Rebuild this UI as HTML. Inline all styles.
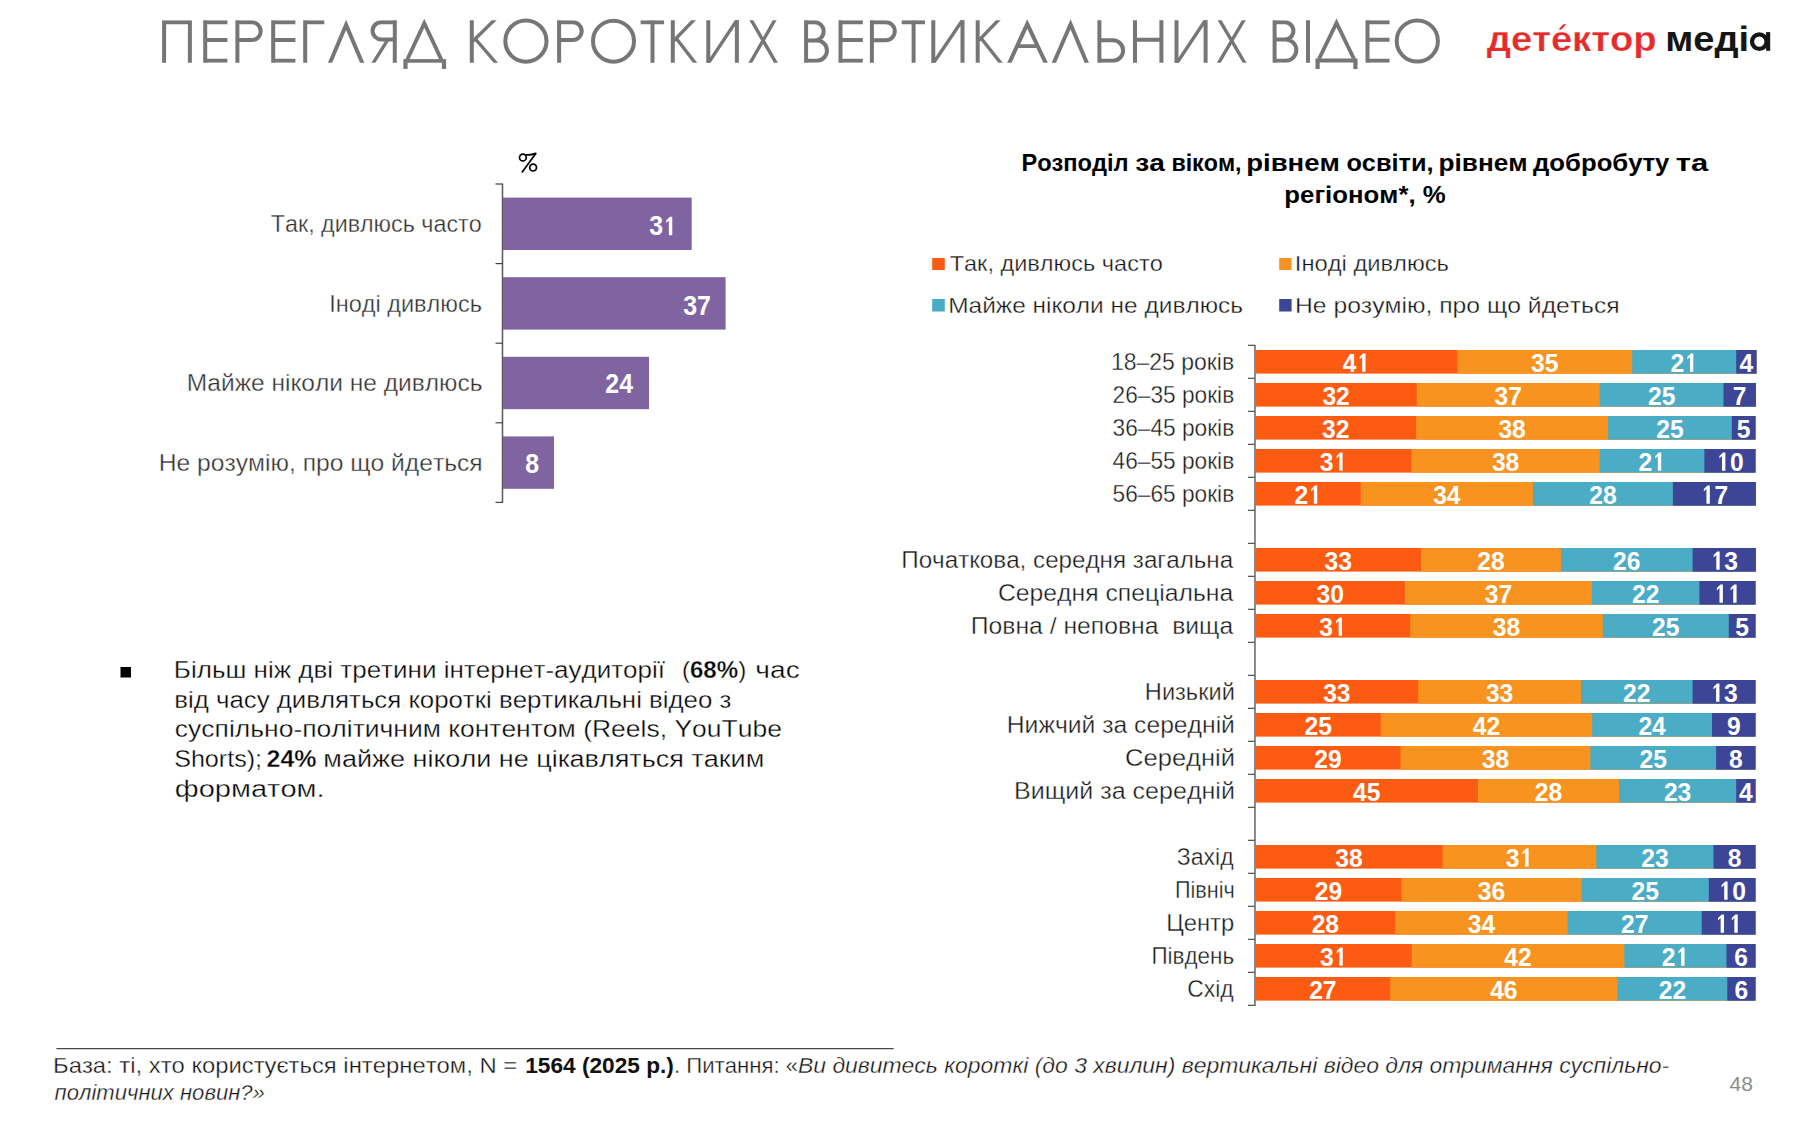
<!DOCTYPE html>
<html><head><meta charset="utf-8"><title>Перегляд коротких вертикальних відео</title>
<style>
html,body{margin:0;padding:0;background:#fff;}
body{width:1800px;height:1125px;overflow:hidden;}
svg{display:block;font-family:"Liberation Sans",sans-serif;font-kerning:none;font-variant-ligatures:none;}
svg text{font-kerning:none;font-variant-ligatures:none;white-space:pre;}
</style></head><body>
<svg width="1800" height="1125" viewBox="0 0 1800 1125">
<rect width="1800" height="1125" fill="#fff"/>
<defs><clipPath id="tc"><rect x="150" y="20.2" width="1300" height="42.5"/></clipPath></defs><g clip-path="url(#tc)"><path d="M164.1,64.7 L164.1,22.2 L189.9,22.2 L189.9,64.7 M205.20,18.20 L205.20,64.70 M205.20,22.20 L227.40,22.20 M205.20,40.00 L227.40,40.00 M205.20,60.70 L227.40,60.70 M237.40,18.20 L237.40,64.70 M237.40,22.20 L251.75,22.20 A8.95,8.95 0 0 1 251.75,40.10 L237.40,40.10 M273.20,18.20 L273.20,64.70 M273.20,22.20 L295.40,22.20 M273.20,40.00 L295.40,40.00 M273.20,60.70 L295.40,60.70 M305.20,18.20 L305.20,64.70 M305.20,22.20 L324.30,22.20 M394.80,18.20 L394.80,64.70 M394.80,22.20 L381.15,22.20 A8.60,8.60 0 0 0 381.15,39.40 L394.80,39.40 M471.80,18.20 L471.80,64.70 M559.10,18.20 L559.10,64.70 M559.10,22.20 L572.80,22.20 A8.90,8.90 0 0 1 572.80,40.00 L559.10,40.00 M640.60,22.20 L664.10,22.20 M652.50,18.20 L652.50,64.70 M672.80,18.20 L672.80,64.70 M708.30,18.20 L708.30,64.70 M736.90,18.20 L736.90,64.70 M806.10,18.20 L806.10,64.70 M806.10,22.20 L814.50,22.20 A9.15,9.15 0 0 1 814.50,40.50 L806.10,40.50 M806.10,40.50 L816.85,40.50 A10.10,10.10 0 0 1 816.85,60.70 L806.10,60.70 M840.50,18.20 L840.50,64.70 M840.50,22.20 L862.80,22.20 M840.50,40.00 L862.80,40.00 M840.50,60.70 L862.80,60.70 M871.90,18.20 L871.90,64.70 M871.90,22.20 L885.80,22.20 A9.00,9.00 0 0 1 885.80,40.20 L871.90,40.20 M901.70,22.20 L925.00,22.20 M913.60,18.20 L913.60,64.70 M933.30,18.20 L933.30,64.70 M962.50,18.20 L962.50,64.70 M977.70,18.20 L977.70,64.70 M1099.40,18.20 L1099.40,64.70 M1099.40,40.30 L1112.90,40.30 A10.20,10.20 0 0 1 1112.90,60.70 L1099.40,60.70 M1135.00,18.20 L1135.00,64.70 M1161.40,18.20 L1161.40,64.70 M1135.00,39.80 L1161.40,39.80 M1176.50,18.20 L1176.50,64.70 M1205.60,18.20 L1205.60,64.70 M1274.60,18.20 L1274.60,64.70 M1274.60,22.20 L1284.80,22.20 A8.65,8.65 0 0 1 1284.80,39.50 L1274.60,39.50 M1274.60,39.50 L1285.75,39.50 A10.60,10.60 0 0 1 1285.75,60.70 L1274.60,60.70 M1308.00,18.20 L1308.00,64.70 M1367.50,18.20 L1367.50,64.70 M1367.50,22.20 L1389.50,22.20 M1367.50,39.80 L1389.50,39.80 M1367.50,60.70 L1389.50,60.70" fill="none" stroke="#767676" stroke-width="4.0" stroke-linejoin="miter" stroke-miterlimit="10"/><path d="M388.00,39.40 L371.28,66.09 M472.80,41.20 L497.05,17.40 M475.00,38.50 L498.41,65.73 M673.80,40.70 L696.38,17.32 M676.00,38.00 L697.44,65.87 M739.07,16.87 L706.43,66.03 M749.30,16.74 L777.90,66.16 M776.69,16.73 L748.31,66.17 M964.68,16.89 L931.42,66.01 M978.70,40.70 L1001.06,17.31 M980.90,38.00 L1002.99,65.83 M1207.57,16.87 L1174.93,66.03 M1217.57,16.75 L1246.63,66.15 M1245.83,16.75 L1216.77,66.15" fill="none" stroke="#767676" stroke-width="3.4"/></g><path d="M327.90,62.70 L346.10,19.80 L364.30,62.70 L360.00,62.70 L346.10,29.94 L332.20,62.70 Z" fill="#767676"/><path d="M405.20,59.40 L424.30,18.70 L443.40,59.40 L439.20,59.40 L424.30,27.65 L409.40,59.40 Z" fill="#767676"/><rect x="403.40" y="59.10" width="42.70" height="3.60" fill="#767676"/><rect x="403.40" y="62.20" width="4.20" height="6.70" fill="#767676"/><rect x="441.90" y="62.20" width="4.20" height="6.70" fill="#767676"/><circle cx="525.90" cy="41.10" r="20.60" fill="none" stroke="#767676" stroke-width="4.0"/><circle cx="613.50" cy="41.20" r="20.50" fill="none" stroke="#767676" stroke-width="4.0"/><path d="M1007.20,62.70 L1027.20,19.20 L1047.80,62.70 L1043.40,62.70 L1027.27,28.63 L1011.60,62.70 Z" fill="#767676"/><path d="M1019.61,44.2 L1035.14,44.2 L1036.99,48.1 L1017.81,48.1 Z" fill="#767676"/><path d="M1051.70,62.70 L1070.60,19.20 L1088.90,62.70 L1084.60,62.70 L1070.53,29.26 L1056.00,62.70 Z" fill="#767676"/><path d="M1317.00,58.80 L1336.50,18.50 L1356.00,58.80 L1351.80,58.80 L1336.50,27.18 L1321.20,58.80 Z" fill="#767676"/><rect x="1315.50" y="58.50" width="42.00" height="4.00" fill="#767676"/><rect x="1315.50" y="62.00" width="4.20" height="7.00" fill="#767676"/><rect x="1353.30" y="62.00" width="4.20" height="7.00" fill="#767676"/><circle cx="1417.30" cy="41.00" r="20.60" fill="none" stroke="#767676" stroke-width="4.0"/>
<text x="1486.74" y="50.80" font-size="35.50" textLength="169.83" lengthAdjust="spacingAndGlyphs" fill="#e52b2b" stroke="#fff" stroke-width="0.25"><tspan font-weight="bold">детектор</tspan></text>
<text x="1665.25" y="50.80" font-size="35.50" textLength="83.84" lengthAdjust="spacingAndGlyphs" fill="#161616"><tspan font-weight="bold">меді</tspan></text>
<circle cx="1759.3" cy="41.6" r="7.3" fill="none" stroke="#161616" stroke-width="4.3"/><rect x="1766.1" y="32.1" width="4.1" height="18.7" fill="#161616"/>
<path d="M1558.6,29.4 L1561.4,29.4 L1566.4,24.2 L1563.3,24.2 Z" fill="#e52b2b"/>
<g fill="none" stroke="#000" stroke-width="1.7" stroke-linejoin="round"><circle cx="522.9" cy="157.5" r="3.4"/><circle cx="533.1" cy="167.6" r="3.4"/><path d="M525.6,154.6 Q530,155.6 535.8,153.4 L521.9,172.6"/></g>
<line x1="502.5" y1="184" x2="502.5" y2="502.5" stroke="#595959" stroke-width="1.5"/>
<line x1="495.5" y1="184" x2="503" y2="184" stroke="#444" stroke-width="1.2"/>
<line x1="495.5" y1="263.6" x2="503" y2="263.6" stroke="#444" stroke-width="1.2"/>
<line x1="495.5" y1="343.2" x2="503" y2="343.2" stroke="#444" stroke-width="1.2"/>
<line x1="495.5" y1="422.8" x2="503" y2="422.8" stroke="#444" stroke-width="1.2"/>
<line x1="495.5" y1="502.4" x2="503" y2="502.4" stroke="#444" stroke-width="1.2"/>
<rect x="503.00" y="197.60" width="188.70" height="52.40" fill="#8064a2"/>
<text x="649.16" y="235.30" font-size="26.80" font-weight="bold" textLength="13.86" lengthAdjust="spacingAndGlyphs" fill="#fff">3</text>
<path transform="translate(663.03,235.30) scale(0.01217,-0.01309)" d="M759 0 L759 1409 L560 1409 L262 1140 L262 945 L478 1140 L478 0 Z" fill="#fff"/>
<rect x="503.00" y="277.20" width="222.60" height="52.40" fill="#8064a2"/>
<text x="683.25" y="314.70" font-size="26.80" font-weight="bold" textLength="13.86" lengthAdjust="spacingAndGlyphs" fill="#fff">3</text>
<text x="697.11" y="314.70" font-size="26.80" font-weight="bold" textLength="13.86" lengthAdjust="spacingAndGlyphs" fill="#fff">7</text>
<rect x="503.00" y="356.80" width="146.00" height="52.40" fill="#8064a2"/>
<text x="605.27" y="393.30" font-size="26.80" font-weight="bold" textLength="13.86" lengthAdjust="spacingAndGlyphs" fill="#fff">2</text>
<text x="619.13" y="393.30" font-size="26.80" font-weight="bold" textLength="13.86" lengthAdjust="spacingAndGlyphs" fill="#fff">4</text>
<rect x="503.00" y="436.40" width="51.00" height="52.40" fill="#8064a2"/>
<text x="525.21" y="473.30" font-size="26.80" font-weight="bold" textLength="13.86" lengthAdjust="spacingAndGlyphs" fill="#fff">8</text>
<text x="270.78" y="232.00" font-size="23.69" textLength="210.90" lengthAdjust="spacingAndGlyphs" fill="#2e2e2e" stroke="#fff" stroke-width="0.35">Так, дивлюсь часто</text>
<text x="329.13" y="311.50" font-size="23.69" textLength="152.84" lengthAdjust="spacingAndGlyphs" fill="#2e2e2e" stroke="#fff" stroke-width="0.35">Іноді дивлюсь</text>
<text x="186.89" y="391.10" font-size="23.69" textLength="295.62" lengthAdjust="spacingAndGlyphs" fill="#2e2e2e" stroke="#fff" stroke-width="0.35">Майже ніколи не дивлюсь</text>
<text x="158.68" y="470.80" font-size="23.69" textLength="324.03" lengthAdjust="spacingAndGlyphs" fill="#2e2e2e" stroke="#fff" stroke-width="0.35">Не розумію, про що йдеться</text>
<text x="1021.42" y="171.00" font-size="23.26" textLength="107.23" lengthAdjust="spacingAndGlyphs" fill="#000"><tspan font-weight="bold">Розподіл</tspan></text>
<text x="1135.27" y="171.00" font-size="23.26" textLength="29.55" lengthAdjust="spacingAndGlyphs" fill="#000"><tspan font-weight="bold">за</tspan></text>
<text x="1171.38" y="171.00" font-size="23.26" textLength="70.18" lengthAdjust="spacingAndGlyphs" fill="#000"><tspan font-weight="bold">віком,</tspan></text>
<text x="1246.18" y="171.00" font-size="23.26" textLength="93.74" lengthAdjust="spacingAndGlyphs" fill="#000"><tspan font-weight="bold">рівнем</tspan></text>
<text x="1346.41" y="171.00" font-size="23.26" textLength="87.08" lengthAdjust="spacingAndGlyphs" fill="#000"><tspan font-weight="bold">освіти,</tspan></text>
<text x="1438.58" y="171.00" font-size="23.26" textLength="89.05" lengthAdjust="spacingAndGlyphs" fill="#000"><tspan font-weight="bold">рівнем</tspan></text>
<text x="1533.02" y="171.00" font-size="23.26" textLength="136.41" lengthAdjust="spacingAndGlyphs" fill="#000"><tspan font-weight="bold">добробуту</tspan></text>
<text x="1675.82" y="171.00" font-size="23.26" textLength="32.38" lengthAdjust="spacingAndGlyphs" fill="#000"><tspan font-weight="bold">та</tspan></text>
<text x="1284.30" y="202.50" font-size="23.26" textLength="161.38" lengthAdjust="spacingAndGlyphs" fill="#000"><tspan font-weight="bold">регіоном*, %</tspan></text>
<rect x="932.20" y="258.00" width="12.60" height="12.00" fill="#fd5a12"/>
<rect x="932.20" y="299.00" width="12.60" height="12.50" fill="#4bacc6"/>
<rect x="1279.20" y="258.00" width="12.40" height="12.00" fill="#f7931e"/>
<rect x="1279.20" y="299.00" width="12.40" height="12.50" fill="#3c4596"/>
<text x="949.67" y="271.40" font-size="22.09" textLength="213.12" lengthAdjust="spacingAndGlyphs" fill="#111" stroke="#fff" stroke-width="0.35">Так, дивлюсь часто</text>
<text x="948.19" y="313.00" font-size="22.09" textLength="294.81" lengthAdjust="spacingAndGlyphs" fill="#111" stroke="#fff" stroke-width="0.35">Майже ніколи не дивлюсь</text>
<text x="1294.81" y="271.40" font-size="22.09" textLength="154.16" lengthAdjust="spacingAndGlyphs" fill="#111" stroke="#fff" stroke-width="0.35">Іноді дивлюсь</text>
<text x="1294.97" y="313.00" font-size="22.09" textLength="324.74" lengthAdjust="spacingAndGlyphs" fill="#111" stroke="#fff" stroke-width="0.35">Не розумію, про що йдеться</text>
<line x1="1254.95" y1="344.7" x2="1254.95" y2="1005.9" stroke="#7d7d7d" stroke-width="1.8"/>
<line x1="1248" y1="345.3" x2="1254.5" y2="345.3" stroke="#3a3a3a" stroke-width="1.1"/>
<line x1="1248" y1="378.3" x2="1254.5" y2="378.3" stroke="#3a3a3a" stroke-width="1.1"/>
<line x1="1248" y1="411.3" x2="1254.5" y2="411.3" stroke="#3a3a3a" stroke-width="1.1"/>
<line x1="1248" y1="444.3" x2="1254.5" y2="444.3" stroke="#3a3a3a" stroke-width="1.1"/>
<line x1="1248" y1="477.3" x2="1254.5" y2="477.3" stroke="#3a3a3a" stroke-width="1.1"/>
<line x1="1248" y1="510.3" x2="1254.5" y2="510.3" stroke="#3a3a3a" stroke-width="1.1"/>
<line x1="1248" y1="543.3" x2="1254.5" y2="543.3" stroke="#3a3a3a" stroke-width="1.1"/>
<line x1="1248" y1="576.3" x2="1254.5" y2="576.3" stroke="#3a3a3a" stroke-width="1.1"/>
<line x1="1248" y1="609.3" x2="1254.5" y2="609.3" stroke="#3a3a3a" stroke-width="1.1"/>
<line x1="1248" y1="642.3" x2="1254.5" y2="642.3" stroke="#3a3a3a" stroke-width="1.1"/>
<line x1="1248" y1="675.3" x2="1254.5" y2="675.3" stroke="#3a3a3a" stroke-width="1.1"/>
<line x1="1248" y1="708.3" x2="1254.5" y2="708.3" stroke="#3a3a3a" stroke-width="1.1"/>
<line x1="1248" y1="741.3" x2="1254.5" y2="741.3" stroke="#3a3a3a" stroke-width="1.1"/>
<line x1="1248" y1="774.3" x2="1254.5" y2="774.3" stroke="#3a3a3a" stroke-width="1.1"/>
<line x1="1248" y1="807.3" x2="1254.5" y2="807.3" stroke="#3a3a3a" stroke-width="1.1"/>
<line x1="1248" y1="840.3" x2="1254.5" y2="840.3" stroke="#3a3a3a" stroke-width="1.1"/>
<line x1="1248" y1="873.3" x2="1254.5" y2="873.3" stroke="#3a3a3a" stroke-width="1.1"/>
<line x1="1248" y1="906.3" x2="1254.5" y2="906.3" stroke="#3a3a3a" stroke-width="1.1"/>
<line x1="1248" y1="939.3" x2="1254.5" y2="939.3" stroke="#3a3a3a" stroke-width="1.1"/>
<line x1="1248" y1="972.3" x2="1254.5" y2="972.3" stroke="#3a3a3a" stroke-width="1.1"/>
<line x1="1248" y1="1005.3" x2="1254.5" y2="1005.3" stroke="#3a3a3a" stroke-width="1.1"/>
<rect x="1255.50" y="350.00" width="501.00" height="23.60" fill="#fd5a12"/>
<rect x="1457.30" y="350.00" width="299.20" height="23.60" fill="#f7931e"/>
<rect x="1632.20" y="350.00" width="124.30" height="23.60" fill="#4bacc6"/>
<rect x="1736.20" y="350.00" width="20.30" height="23.60" fill="#3c4596"/>
<text x="1342.69" y="371.80" font-size="26.50" font-weight="bold" textLength="13.71" lengthAdjust="spacingAndGlyphs" fill="#fff">4</text>
<path transform="translate(1356.40,371.80) scale(0.01203,-0.01294)" d="M759 0 L759 1409 L560 1409 L262 1140 L262 945 L478 1140 L478 0 Z" fill="#fff"/>
<text x="1531.04" y="371.80" font-size="26.50" font-weight="bold" textLength="13.71" lengthAdjust="spacingAndGlyphs" fill="#fff">3</text>
<text x="1544.75" y="371.80" font-size="26.50" font-weight="bold" textLength="13.71" lengthAdjust="spacingAndGlyphs" fill="#fff">5</text>
<text x="1670.49" y="371.80" font-size="26.50" font-weight="bold" textLength="13.71" lengthAdjust="spacingAndGlyphs" fill="#fff">2</text>
<path transform="translate(1684.20,371.80) scale(0.01203,-0.01294)" d="M759 0 L759 1409 L560 1409 L262 1140 L262 945 L478 1140 L478 0 Z" fill="#fff"/>
<text x="1739.50" y="371.80" font-size="26.50" font-weight="bold" textLength="13.71" lengthAdjust="spacingAndGlyphs" fill="#fff">4</text>
<text x="1110.95" y="369.50" font-size="23.26" textLength="123.25" lengthAdjust="spacingAndGlyphs" fill="#161616" stroke="#fff" stroke-width="0.35">18–25 років</text>
<rect x="1255.50" y="383.00" width="500.40" height="23.60" fill="#fd5a12"/>
<rect x="1416.70" y="383.00" width="339.20" height="23.60" fill="#f7931e"/>
<rect x="1599.80" y="383.00" width="156.10" height="23.60" fill="#4bacc6"/>
<rect x="1723.50" y="383.00" width="32.40" height="23.60" fill="#3c4596"/>
<text x="1322.39" y="404.80" font-size="26.50" font-weight="bold" textLength="13.71" lengthAdjust="spacingAndGlyphs" fill="#fff">3</text>
<text x="1336.10" y="404.80" font-size="26.50" font-weight="bold" textLength="13.71" lengthAdjust="spacingAndGlyphs" fill="#fff">2</text>
<text x="1494.54" y="404.80" font-size="26.50" font-weight="bold" textLength="13.71" lengthAdjust="spacingAndGlyphs" fill="#fff">3</text>
<text x="1508.25" y="404.80" font-size="26.50" font-weight="bold" textLength="13.71" lengthAdjust="spacingAndGlyphs" fill="#fff">7</text>
<text x="1647.94" y="404.80" font-size="26.50" font-weight="bold" textLength="13.71" lengthAdjust="spacingAndGlyphs" fill="#fff">2</text>
<text x="1661.65" y="404.80" font-size="26.50" font-weight="bold" textLength="13.71" lengthAdjust="spacingAndGlyphs" fill="#fff">5</text>
<text x="1732.85" y="404.80" font-size="26.50" font-weight="bold" textLength="13.71" lengthAdjust="spacingAndGlyphs" fill="#fff">7</text>
<text x="1112.61" y="402.50" font-size="23.26" textLength="121.58" lengthAdjust="spacingAndGlyphs" fill="#161616" stroke="#fff" stroke-width="0.35">26–35 років</text>
<rect x="1255.50" y="416.00" width="500.00" height="23.60" fill="#fd5a12"/>
<rect x="1416.10" y="416.00" width="339.40" height="23.60" fill="#f7931e"/>
<rect x="1608.10" y="416.00" width="147.40" height="23.60" fill="#4bacc6"/>
<rect x="1731.80" y="416.00" width="23.70" height="23.60" fill="#3c4596"/>
<text x="1322.09" y="437.80" font-size="26.50" font-weight="bold" textLength="13.71" lengthAdjust="spacingAndGlyphs" fill="#fff">3</text>
<text x="1335.80" y="437.80" font-size="26.50" font-weight="bold" textLength="13.71" lengthAdjust="spacingAndGlyphs" fill="#fff">2</text>
<text x="1498.39" y="437.80" font-size="26.50" font-weight="bold" textLength="13.71" lengthAdjust="spacingAndGlyphs" fill="#fff">3</text>
<text x="1512.10" y="437.80" font-size="26.50" font-weight="bold" textLength="13.71" lengthAdjust="spacingAndGlyphs" fill="#fff">8</text>
<text x="1656.24" y="437.80" font-size="26.50" font-weight="bold" textLength="13.71" lengthAdjust="spacingAndGlyphs" fill="#fff">2</text>
<text x="1669.95" y="437.80" font-size="26.50" font-weight="bold" textLength="13.71" lengthAdjust="spacingAndGlyphs" fill="#fff">5</text>
<text x="1736.80" y="437.80" font-size="26.50" font-weight="bold" textLength="13.71" lengthAdjust="spacingAndGlyphs" fill="#fff">5</text>
<text x="1112.61" y="435.50" font-size="23.26" textLength="121.58" lengthAdjust="spacingAndGlyphs" fill="#161616" stroke="#fff" stroke-width="0.35">36–45 років</text>
<rect x="1255.50" y="449.00" width="500.00" height="23.60" fill="#fd5a12"/>
<rect x="1411.40" y="449.00" width="344.10" height="23.60" fill="#f7931e"/>
<rect x="1599.80" y="449.00" width="155.70" height="23.60" fill="#4bacc6"/>
<rect x="1704.40" y="449.00" width="51.10" height="23.60" fill="#3c4596"/>
<text x="1319.74" y="470.80" font-size="26.50" font-weight="bold" textLength="13.71" lengthAdjust="spacingAndGlyphs" fill="#fff">3</text>
<path transform="translate(1333.45,470.80) scale(0.01203,-0.01294)" d="M759 0 L759 1409 L560 1409 L262 1140 L262 945 L478 1140 L478 0 Z" fill="#fff"/>
<text x="1491.89" y="470.80" font-size="26.50" font-weight="bold" textLength="13.71" lengthAdjust="spacingAndGlyphs" fill="#fff">3</text>
<text x="1505.60" y="470.80" font-size="26.50" font-weight="bold" textLength="13.71" lengthAdjust="spacingAndGlyphs" fill="#fff">8</text>
<text x="1638.39" y="470.80" font-size="26.50" font-weight="bold" textLength="13.71" lengthAdjust="spacingAndGlyphs" fill="#fff">2</text>
<path transform="translate(1652.10,470.80) scale(0.01203,-0.01294)" d="M759 0 L759 1409 L560 1409 L262 1140 L262 945 L478 1140 L478 0 Z" fill="#fff"/>
<path transform="translate(1716.24,470.80) scale(0.01203,-0.01294)" d="M759 0 L759 1409 L560 1409 L262 1140 L262 945 L478 1140 L478 0 Z" fill="#fff"/>
<text x="1729.95" y="470.80" font-size="26.50" font-weight="bold" textLength="13.71" lengthAdjust="spacingAndGlyphs" fill="#fff">0</text>
<text x="1112.61" y="468.50" font-size="23.26" textLength="121.58" lengthAdjust="spacingAndGlyphs" fill="#161616" stroke="#fff" stroke-width="0.35">46–55 років</text>
<rect x="1255.50" y="482.00" width="500.40" height="23.60" fill="#fd5a12"/>
<rect x="1360.70" y="482.00" width="395.20" height="23.60" fill="#f7931e"/>
<rect x="1533.00" y="482.00" width="222.90" height="23.60" fill="#4bacc6"/>
<rect x="1672.90" y="482.00" width="83.00" height="23.60" fill="#3c4596"/>
<text x="1294.39" y="503.80" font-size="26.50" font-weight="bold" textLength="13.71" lengthAdjust="spacingAndGlyphs" fill="#fff">2</text>
<path transform="translate(1308.10,503.80) scale(0.01203,-0.01294)" d="M759 0 L759 1409 L560 1409 L262 1140 L262 945 L478 1140 L478 0 Z" fill="#fff"/>
<text x="1433.14" y="503.80" font-size="26.50" font-weight="bold" textLength="13.71" lengthAdjust="spacingAndGlyphs" fill="#fff">3</text>
<text x="1446.85" y="503.80" font-size="26.50" font-weight="bold" textLength="13.71" lengthAdjust="spacingAndGlyphs" fill="#fff">4</text>
<text x="1589.24" y="503.80" font-size="26.50" font-weight="bold" textLength="13.71" lengthAdjust="spacingAndGlyphs" fill="#fff">2</text>
<text x="1602.95" y="503.80" font-size="26.50" font-weight="bold" textLength="13.71" lengthAdjust="spacingAndGlyphs" fill="#fff">8</text>
<path transform="translate(1700.69,503.80) scale(0.01203,-0.01294)" d="M759 0 L759 1409 L560 1409 L262 1140 L262 945 L478 1140 L478 0 Z" fill="#fff"/>
<text x="1714.40" y="503.80" font-size="26.50" font-weight="bold" textLength="13.71" lengthAdjust="spacingAndGlyphs" fill="#fff">7</text>
<text x="1112.61" y="501.50" font-size="23.26" textLength="121.58" lengthAdjust="spacingAndGlyphs" fill="#161616" stroke="#fff" stroke-width="0.35">56–65 років</text>
<rect x="1255.50" y="548.00" width="500.40" height="23.60" fill="#fd5a12"/>
<rect x="1421.10" y="548.00" width="334.80" height="23.60" fill="#f7931e"/>
<rect x="1561.00" y="548.00" width="194.90" height="23.60" fill="#4bacc6"/>
<rect x="1692.60" y="548.00" width="63.30" height="23.60" fill="#3c4596"/>
<text x="1324.59" y="569.80" font-size="26.50" font-weight="bold" textLength="13.71" lengthAdjust="spacingAndGlyphs" fill="#fff">3</text>
<text x="1338.30" y="569.80" font-size="26.50" font-weight="bold" textLength="13.71" lengthAdjust="spacingAndGlyphs" fill="#fff">3</text>
<text x="1477.34" y="569.80" font-size="26.50" font-weight="bold" textLength="13.71" lengthAdjust="spacingAndGlyphs" fill="#fff">2</text>
<text x="1491.05" y="569.80" font-size="26.50" font-weight="bold" textLength="13.71" lengthAdjust="spacingAndGlyphs" fill="#fff">8</text>
<text x="1613.09" y="569.80" font-size="26.50" font-weight="bold" textLength="13.71" lengthAdjust="spacingAndGlyphs" fill="#fff">2</text>
<text x="1626.80" y="569.80" font-size="26.50" font-weight="bold" textLength="13.71" lengthAdjust="spacingAndGlyphs" fill="#fff">6</text>
<path transform="translate(1710.54,569.80) scale(0.01203,-0.01294)" d="M759 0 L759 1409 L560 1409 L262 1140 L262 945 L478 1140 L478 0 Z" fill="#fff"/>
<text x="1724.25" y="569.80" font-size="26.50" font-weight="bold" textLength="13.71" lengthAdjust="spacingAndGlyphs" fill="#fff">3</text>
<text x="901.24" y="567.50" font-size="23.26" textLength="331.96" lengthAdjust="spacingAndGlyphs" fill="#161616" stroke="#fff" stroke-width="0.35">Початкова, середня загальна</text>
<rect x="1255.50" y="581.00" width="500.00" height="23.60" fill="#fd5a12"/>
<rect x="1404.90" y="581.00" width="350.60" height="23.60" fill="#f7931e"/>
<rect x="1591.90" y="581.00" width="163.60" height="23.60" fill="#4bacc6"/>
<rect x="1699.40" y="581.00" width="56.10" height="23.60" fill="#3c4596"/>
<text x="1316.49" y="602.80" font-size="26.50" font-weight="bold" textLength="13.71" lengthAdjust="spacingAndGlyphs" fill="#fff">3</text>
<text x="1330.20" y="602.80" font-size="26.50" font-weight="bold" textLength="13.71" lengthAdjust="spacingAndGlyphs" fill="#fff">0</text>
<text x="1484.69" y="602.80" font-size="26.50" font-weight="bold" textLength="13.71" lengthAdjust="spacingAndGlyphs" fill="#fff">3</text>
<text x="1498.40" y="602.80" font-size="26.50" font-weight="bold" textLength="13.71" lengthAdjust="spacingAndGlyphs" fill="#fff">7</text>
<text x="1631.94" y="602.80" font-size="26.50" font-weight="bold" textLength="13.71" lengthAdjust="spacingAndGlyphs" fill="#fff">2</text>
<text x="1645.65" y="602.80" font-size="26.50" font-weight="bold" textLength="13.71" lengthAdjust="spacingAndGlyphs" fill="#fff">2</text>
<path transform="translate(1713.74,602.80) scale(0.01203,-0.01294)" d="M759 0 L759 1409 L560 1409 L262 1140 L262 945 L478 1140 L478 0 Z" fill="#fff"/>
<path transform="translate(1727.45,602.80) scale(0.01203,-0.01294)" d="M759 0 L759 1409 L560 1409 L262 1140 L262 945 L478 1140 L478 0 Z" fill="#fff"/>
<text x="997.94" y="600.50" font-size="23.26" textLength="235.26" lengthAdjust="spacingAndGlyphs" fill="#161616" stroke="#fff" stroke-width="0.35">Середня спеціальна</text>
<rect x="1255.50" y="614.00" width="500.00" height="23.60" fill="#fd5a12"/>
<rect x="1410.20" y="614.00" width="345.30" height="23.60" fill="#f7931e"/>
<rect x="1602.80" y="614.00" width="152.70" height="23.60" fill="#4bacc6"/>
<rect x="1728.80" y="614.00" width="26.70" height="23.60" fill="#3c4596"/>
<text x="1319.14" y="635.80" font-size="26.50" font-weight="bold" textLength="13.71" lengthAdjust="spacingAndGlyphs" fill="#fff">3</text>
<path transform="translate(1332.85,635.80) scale(0.01203,-0.01294)" d="M759 0 L759 1409 L560 1409 L262 1140 L262 945 L478 1140 L478 0 Z" fill="#fff"/>
<text x="1492.79" y="635.80" font-size="26.50" font-weight="bold" textLength="13.71" lengthAdjust="spacingAndGlyphs" fill="#fff">3</text>
<text x="1506.50" y="635.80" font-size="26.50" font-weight="bold" textLength="13.71" lengthAdjust="spacingAndGlyphs" fill="#fff">8</text>
<text x="1652.09" y="635.80" font-size="26.50" font-weight="bold" textLength="13.71" lengthAdjust="spacingAndGlyphs" fill="#fff">2</text>
<text x="1665.80" y="635.80" font-size="26.50" font-weight="bold" textLength="13.71" lengthAdjust="spacingAndGlyphs" fill="#fff">5</text>
<text x="1735.30" y="635.80" font-size="26.50" font-weight="bold" textLength="13.71" lengthAdjust="spacingAndGlyphs" fill="#fff">5</text>
<text x="970.80" y="633.50" font-size="23.26" textLength="262.40" lengthAdjust="spacingAndGlyphs" fill="#161616" stroke="#fff" stroke-width="0.35">Повна / неповна  вища</text>
<rect x="1255.50" y="680.00" width="500.00" height="23.60" fill="#fd5a12"/>
<rect x="1418.20" y="680.00" width="337.30" height="23.60" fill="#f7931e"/>
<rect x="1581.00" y="680.00" width="174.50" height="23.60" fill="#4bacc6"/>
<rect x="1692.60" y="680.00" width="62.90" height="23.60" fill="#3c4596"/>
<text x="1323.14" y="701.80" font-size="26.50" font-weight="bold" textLength="13.71" lengthAdjust="spacingAndGlyphs" fill="#fff">3</text>
<text x="1336.85" y="701.80" font-size="26.50" font-weight="bold" textLength="13.71" lengthAdjust="spacingAndGlyphs" fill="#fff">3</text>
<text x="1485.89" y="701.80" font-size="26.50" font-weight="bold" textLength="13.71" lengthAdjust="spacingAndGlyphs" fill="#fff">3</text>
<text x="1499.60" y="701.80" font-size="26.50" font-weight="bold" textLength="13.71" lengthAdjust="spacingAndGlyphs" fill="#fff">3</text>
<text x="1623.09" y="701.80" font-size="26.50" font-weight="bold" textLength="13.71" lengthAdjust="spacingAndGlyphs" fill="#fff">2</text>
<text x="1636.80" y="701.80" font-size="26.50" font-weight="bold" textLength="13.71" lengthAdjust="spacingAndGlyphs" fill="#fff">2</text>
<path transform="translate(1710.34,701.80) scale(0.01203,-0.01294)" d="M759 0 L759 1409 L560 1409 L262 1140 L262 945 L478 1140 L478 0 Z" fill="#fff"/>
<text x="1724.05" y="701.80" font-size="26.50" font-weight="bold" textLength="13.71" lengthAdjust="spacingAndGlyphs" fill="#fff">3</text>
<text x="1144.87" y="699.50" font-size="23.26" textLength="89.97" lengthAdjust="spacingAndGlyphs" fill="#161616" stroke="#fff" stroke-width="0.35">Низький</text>
<rect x="1255.50" y="713.00" width="500.00" height="23.60" fill="#fd5a12"/>
<rect x="1380.80" y="713.00" width="374.70" height="23.60" fill="#f7931e"/>
<rect x="1592.20" y="713.00" width="163.30" height="23.60" fill="#4bacc6"/>
<rect x="1712.00" y="713.00" width="43.50" height="23.60" fill="#3c4596"/>
<text x="1304.44" y="734.80" font-size="26.50" font-weight="bold" textLength="13.71" lengthAdjust="spacingAndGlyphs" fill="#fff">2</text>
<text x="1318.15" y="734.80" font-size="26.50" font-weight="bold" textLength="13.71" lengthAdjust="spacingAndGlyphs" fill="#fff">5</text>
<text x="1472.79" y="734.80" font-size="26.50" font-weight="bold" textLength="13.71" lengthAdjust="spacingAndGlyphs" fill="#fff">4</text>
<text x="1486.50" y="734.80" font-size="26.50" font-weight="bold" textLength="13.71" lengthAdjust="spacingAndGlyphs" fill="#fff">2</text>
<text x="1638.39" y="734.80" font-size="26.50" font-weight="bold" textLength="13.71" lengthAdjust="spacingAndGlyphs" fill="#fff">2</text>
<text x="1652.10" y="734.80" font-size="26.50" font-weight="bold" textLength="13.71" lengthAdjust="spacingAndGlyphs" fill="#fff">4</text>
<text x="1726.90" y="734.80" font-size="26.50" font-weight="bold" textLength="13.71" lengthAdjust="spacingAndGlyphs" fill="#fff">9</text>
<text x="1006.78" y="732.50" font-size="23.26" textLength="228.14" lengthAdjust="spacingAndGlyphs" fill="#161616" stroke="#fff" stroke-width="0.35">Нижчий за середній</text>
<rect x="1255.50" y="746.00" width="500.00" height="23.60" fill="#fd5a12"/>
<rect x="1400.50" y="746.00" width="355.00" height="23.60" fill="#f7931e"/>
<rect x="1590.40" y="746.00" width="165.10" height="23.60" fill="#4bacc6"/>
<rect x="1716.10" y="746.00" width="39.40" height="23.60" fill="#3c4596"/>
<text x="1314.29" y="767.80" font-size="26.50" font-weight="bold" textLength="13.71" lengthAdjust="spacingAndGlyphs" fill="#fff">2</text>
<text x="1328.00" y="767.80" font-size="26.50" font-weight="bold" textLength="13.71" lengthAdjust="spacingAndGlyphs" fill="#fff">9</text>
<text x="1481.74" y="767.80" font-size="26.50" font-weight="bold" textLength="13.71" lengthAdjust="spacingAndGlyphs" fill="#fff">3</text>
<text x="1495.45" y="767.80" font-size="26.50" font-weight="bold" textLength="13.71" lengthAdjust="spacingAndGlyphs" fill="#fff">8</text>
<text x="1639.54" y="767.80" font-size="26.50" font-weight="bold" textLength="13.71" lengthAdjust="spacingAndGlyphs" fill="#fff">2</text>
<text x="1653.25" y="767.80" font-size="26.50" font-weight="bold" textLength="13.71" lengthAdjust="spacingAndGlyphs" fill="#fff">5</text>
<text x="1728.95" y="767.80" font-size="26.50" font-weight="bold" textLength="13.71" lengthAdjust="spacingAndGlyphs" fill="#fff">8</text>
<text x="1125.10" y="765.50" font-size="23.26" textLength="109.86" lengthAdjust="spacingAndGlyphs" fill="#161616" stroke="#fff" stroke-width="0.35">Середній</text>
<rect x="1255.50" y="779.00" width="500.00" height="23.60" fill="#fd5a12"/>
<rect x="1477.90" y="779.00" width="277.60" height="23.60" fill="#f7931e"/>
<rect x="1619.00" y="779.00" width="136.50" height="23.60" fill="#4bacc6"/>
<rect x="1736.20" y="779.00" width="19.30" height="23.60" fill="#3c4596"/>
<text x="1352.99" y="800.80" font-size="26.50" font-weight="bold" textLength="13.71" lengthAdjust="spacingAndGlyphs" fill="#fff">4</text>
<text x="1366.70" y="800.80" font-size="26.50" font-weight="bold" textLength="13.71" lengthAdjust="spacingAndGlyphs" fill="#fff">5</text>
<text x="1534.74" y="800.80" font-size="26.50" font-weight="bold" textLength="13.71" lengthAdjust="spacingAndGlyphs" fill="#fff">2</text>
<text x="1548.45" y="800.80" font-size="26.50" font-weight="bold" textLength="13.71" lengthAdjust="spacingAndGlyphs" fill="#fff">8</text>
<text x="1663.89" y="800.80" font-size="26.50" font-weight="bold" textLength="13.71" lengthAdjust="spacingAndGlyphs" fill="#fff">2</text>
<text x="1677.60" y="800.80" font-size="26.50" font-weight="bold" textLength="13.71" lengthAdjust="spacingAndGlyphs" fill="#fff">3</text>
<text x="1739.00" y="800.80" font-size="26.50" font-weight="bold" textLength="13.71" lengthAdjust="spacingAndGlyphs" fill="#fff">4</text>
<text x="1013.94" y="798.50" font-size="23.26" textLength="220.99" lengthAdjust="spacingAndGlyphs" fill="#161616" stroke="#fff" stroke-width="0.35">Вищий за середній</text>
<rect x="1255.50" y="845.00" width="500.00" height="23.60" fill="#fd5a12"/>
<rect x="1442.60" y="845.00" width="312.90" height="23.60" fill="#f7931e"/>
<rect x="1596.30" y="845.00" width="159.20" height="23.60" fill="#4bacc6"/>
<rect x="1713.50" y="845.00" width="42.00" height="23.60" fill="#3c4596"/>
<text x="1335.34" y="866.80" font-size="26.50" font-weight="bold" textLength="13.71" lengthAdjust="spacingAndGlyphs" fill="#fff">3</text>
<text x="1349.05" y="866.80" font-size="26.50" font-weight="bold" textLength="13.71" lengthAdjust="spacingAndGlyphs" fill="#fff">8</text>
<text x="1505.74" y="866.80" font-size="26.50" font-weight="bold" textLength="13.71" lengthAdjust="spacingAndGlyphs" fill="#fff">3</text>
<path transform="translate(1519.45,866.80) scale(0.01203,-0.01294)" d="M759 0 L759 1409 L560 1409 L262 1140 L262 945 L478 1140 L478 0 Z" fill="#fff"/>
<text x="1641.19" y="866.80" font-size="26.50" font-weight="bold" textLength="13.71" lengthAdjust="spacingAndGlyphs" fill="#fff">2</text>
<text x="1654.90" y="866.80" font-size="26.50" font-weight="bold" textLength="13.71" lengthAdjust="spacingAndGlyphs" fill="#fff">3</text>
<text x="1727.65" y="866.80" font-size="26.50" font-weight="bold" textLength="13.71" lengthAdjust="spacingAndGlyphs" fill="#fff">8</text>
<text x="1176.75" y="864.50" font-size="23.26" textLength="56.85" lengthAdjust="spacingAndGlyphs" fill="#161616" stroke="#fff" stroke-width="0.35">Захід</text>
<rect x="1255.50" y="878.00" width="500.00" height="23.60" fill="#fd5a12"/>
<rect x="1401.40" y="878.00" width="354.10" height="23.60" fill="#f7931e"/>
<rect x="1581.60" y="878.00" width="173.90" height="23.60" fill="#4bacc6"/>
<rect x="1708.80" y="878.00" width="46.70" height="23.60" fill="#3c4596"/>
<text x="1314.74" y="899.80" font-size="26.50" font-weight="bold" textLength="13.71" lengthAdjust="spacingAndGlyphs" fill="#fff">2</text>
<text x="1328.45" y="899.80" font-size="26.50" font-weight="bold" textLength="13.71" lengthAdjust="spacingAndGlyphs" fill="#fff">9</text>
<text x="1477.79" y="899.80" font-size="26.50" font-weight="bold" textLength="13.71" lengthAdjust="spacingAndGlyphs" fill="#fff">3</text>
<text x="1491.50" y="899.80" font-size="26.50" font-weight="bold" textLength="13.71" lengthAdjust="spacingAndGlyphs" fill="#fff">6</text>
<text x="1631.49" y="899.80" font-size="26.50" font-weight="bold" textLength="13.71" lengthAdjust="spacingAndGlyphs" fill="#fff">2</text>
<text x="1645.20" y="899.80" font-size="26.50" font-weight="bold" textLength="13.71" lengthAdjust="spacingAndGlyphs" fill="#fff">5</text>
<path transform="translate(1718.44,899.80) scale(0.01203,-0.01294)" d="M759 0 L759 1409 L560 1409 L262 1140 L262 945 L478 1140 L478 0 Z" fill="#fff"/>
<text x="1732.15" y="899.80" font-size="26.50" font-weight="bold" textLength="13.71" lengthAdjust="spacingAndGlyphs" fill="#fff">0</text>
<text x="1174.95" y="897.50" font-size="23.26" textLength="59.76" lengthAdjust="spacingAndGlyphs" fill="#161616" stroke="#fff" stroke-width="0.35">Північ</text>
<rect x="1255.50" y="911.00" width="500.00" height="23.60" fill="#fd5a12"/>
<rect x="1395.20" y="911.00" width="360.30" height="23.60" fill="#f7931e"/>
<rect x="1567.70" y="911.00" width="187.80" height="23.60" fill="#4bacc6"/>
<rect x="1701.70" y="911.00" width="53.80" height="23.60" fill="#3c4596"/>
<text x="1311.64" y="932.80" font-size="26.50" font-weight="bold" textLength="13.71" lengthAdjust="spacingAndGlyphs" fill="#fff">2</text>
<text x="1325.35" y="932.80" font-size="26.50" font-weight="bold" textLength="13.71" lengthAdjust="spacingAndGlyphs" fill="#fff">8</text>
<text x="1467.74" y="932.80" font-size="26.50" font-weight="bold" textLength="13.71" lengthAdjust="spacingAndGlyphs" fill="#fff">3</text>
<text x="1481.45" y="932.80" font-size="26.50" font-weight="bold" textLength="13.71" lengthAdjust="spacingAndGlyphs" fill="#fff">4</text>
<text x="1620.99" y="932.80" font-size="26.50" font-weight="bold" textLength="13.71" lengthAdjust="spacingAndGlyphs" fill="#fff">2</text>
<text x="1634.70" y="932.80" font-size="26.50" font-weight="bold" textLength="13.71" lengthAdjust="spacingAndGlyphs" fill="#fff">7</text>
<path transform="translate(1714.89,932.80) scale(0.01203,-0.01294)" d="M759 0 L759 1409 L560 1409 L262 1140 L262 945 L478 1140 L478 0 Z" fill="#fff"/>
<path transform="translate(1728.60,932.80) scale(0.01203,-0.01294)" d="M759 0 L759 1409 L560 1409 L262 1140 L262 945 L478 1140 L478 0 Z" fill="#fff"/>
<text x="1166.15" y="930.50" font-size="23.26" textLength="68.05" lengthAdjust="spacingAndGlyphs" fill="#161616" stroke="#fff" stroke-width="0.35">Центр</text>
<rect x="1255.50" y="944.00" width="500.00" height="23.60" fill="#fd5a12"/>
<rect x="1411.70" y="944.00" width="343.80" height="23.60" fill="#f7931e"/>
<rect x="1624.30" y="944.00" width="131.20" height="23.60" fill="#4bacc6"/>
<rect x="1726.50" y="944.00" width="29.00" height="23.60" fill="#3c4596"/>
<text x="1319.89" y="965.80" font-size="26.50" font-weight="bold" textLength="13.71" lengthAdjust="spacingAndGlyphs" fill="#fff">3</text>
<path transform="translate(1333.60,965.80) scale(0.01203,-0.01294)" d="M759 0 L759 1409 L560 1409 L262 1140 L262 945 L478 1140 L478 0 Z" fill="#fff"/>
<text x="1504.29" y="965.80" font-size="26.50" font-weight="bold" textLength="13.71" lengthAdjust="spacingAndGlyphs" fill="#fff">4</text>
<text x="1518.00" y="965.80" font-size="26.50" font-weight="bold" textLength="13.71" lengthAdjust="spacingAndGlyphs" fill="#fff">2</text>
<text x="1661.69" y="965.80" font-size="26.50" font-weight="bold" textLength="13.71" lengthAdjust="spacingAndGlyphs" fill="#fff">2</text>
<path transform="translate(1675.40,965.80) scale(0.01203,-0.01294)" d="M759 0 L759 1409 L560 1409 L262 1140 L262 945 L478 1140 L478 0 Z" fill="#fff"/>
<text x="1734.15" y="965.80" font-size="26.50" font-weight="bold" textLength="13.71" lengthAdjust="spacingAndGlyphs" fill="#fff">6</text>
<text x="1151.48" y="963.50" font-size="23.26" textLength="82.64" lengthAdjust="spacingAndGlyphs" fill="#161616" stroke="#fff" stroke-width="0.35">Південь</text>
<rect x="1255.50" y="977.00" width="500.00" height="23.60" fill="#fd5a12"/>
<rect x="1390.20" y="977.00" width="365.30" height="23.60" fill="#f7931e"/>
<rect x="1617.50" y="977.00" width="138.00" height="23.60" fill="#4bacc6"/>
<rect x="1727.30" y="977.00" width="28.20" height="23.60" fill="#3c4596"/>
<text x="1309.14" y="998.80" font-size="26.50" font-weight="bold" textLength="13.71" lengthAdjust="spacingAndGlyphs" fill="#fff">2</text>
<text x="1322.85" y="998.80" font-size="26.50" font-weight="bold" textLength="13.71" lengthAdjust="spacingAndGlyphs" fill="#fff">7</text>
<text x="1490.14" y="998.80" font-size="26.50" font-weight="bold" textLength="13.71" lengthAdjust="spacingAndGlyphs" fill="#fff">4</text>
<text x="1503.85" y="998.80" font-size="26.50" font-weight="bold" textLength="13.71" lengthAdjust="spacingAndGlyphs" fill="#fff">6</text>
<text x="1658.69" y="998.80" font-size="26.50" font-weight="bold" textLength="13.71" lengthAdjust="spacingAndGlyphs" fill="#fff">2</text>
<text x="1672.40" y="998.80" font-size="26.50" font-weight="bold" textLength="13.71" lengthAdjust="spacingAndGlyphs" fill="#fff">2</text>
<text x="1734.55" y="998.80" font-size="26.50" font-weight="bold" textLength="13.71" lengthAdjust="spacingAndGlyphs" fill="#fff">6</text>
<text x="1187.24" y="996.50" font-size="23.26" textLength="46.35" lengthAdjust="spacingAndGlyphs" fill="#161616" stroke="#fff" stroke-width="0.35">Схід</text>
<rect x="120.50" y="667.00" width="10.50" height="10.50" fill="#000"/>
<text x="173.87" y="677.60" font-size="24.13" textLength="491.19" lengthAdjust="spacingAndGlyphs" fill="#000" stroke="#fff" stroke-width="0.35">Більш ніж дві третини інтернет-аудиторії</text>
<text x="681.91" y="677.60" font-size="24.13" textLength="64.29" lengthAdjust="spacingAndGlyphs" fill="#000" stroke="#fff" stroke-width="0.35">(<tspan font-weight="bold">68%</tspan>)</text>
<text x="755.32" y="677.60" font-size="24.13" textLength="44.42" lengthAdjust="spacingAndGlyphs" fill="#000" stroke="#fff" stroke-width="0.35">час</text>
<text x="174.21" y="707.50" font-size="24.13" textLength="557.16" lengthAdjust="spacingAndGlyphs" fill="#000" stroke="#fff" stroke-width="0.35">від часу дивляться короткі вертикальні відео з</text>
<text x="174.88" y="737.30" font-size="24.13" textLength="607.00" lengthAdjust="spacingAndGlyphs" fill="#000" stroke="#fff" stroke-width="0.35">суспільно-політичним контентом (Reels, YouTube</text>
<text x="174.16" y="767.30" font-size="24.13" textLength="87.90" lengthAdjust="spacingAndGlyphs" fill="#000" stroke="#fff" stroke-width="0.35">Shorts);</text>
<text x="266.54" y="767.30" font-size="24.13" textLength="49.92" lengthAdjust="spacingAndGlyphs" fill="#000" stroke="#fff" stroke-width="0.35"><tspan font-weight="bold">24%</tspan></text>
<text x="323.33" y="767.30" font-size="24.13" textLength="440.93" lengthAdjust="spacingAndGlyphs" fill="#000" stroke="#fff" stroke-width="0.35">майже ніколи не цікавляться таким</text>
<text x="174.78" y="797.00" font-size="24.13" textLength="149.87" lengthAdjust="spacingAndGlyphs" fill="#000" stroke="#fff" stroke-width="0.35">форматом.</text>
<line x1="56.4" y1="1048.6" x2="893.7" y2="1048.6" stroke="#4a4a4a" stroke-width="1.1"/>
<text x="53.05" y="1073.20" font-size="22.24" textLength="464.13" lengthAdjust="spacingAndGlyphs" fill="#111" stroke="#fff" stroke-width="0.35">База: ті, хто користується інтернетом, N =</text>
<text x="525.27" y="1073.20" font-size="22.24" textLength="148.55" lengthAdjust="spacingAndGlyphs" fill="#111"><tspan font-weight="bold">1564 (2025 р.)</tspan></text>
<text x="673.98" y="1073.20" font-size="22.24" textLength="124.22" lengthAdjust="spacingAndGlyphs" fill="#111" stroke="#fff" stroke-width="0.35">. Питання: «</text>
<text x="797.99" y="1073.20" font-size="22.24" textLength="871.22" lengthAdjust="spacingAndGlyphs" fill="#111" stroke="#fff" stroke-width="0.35"><tspan font-style="italic">Ви дивитесь короткі (до 3 хвилин) вертикальні відео для отримання суспільно-</tspan></text>
<text x="54.63" y="1100.00" font-size="21.80" textLength="210.21" lengthAdjust="spacingAndGlyphs" fill="#111" stroke="#fff" stroke-width="0.35"><tspan font-style="italic">політичних новин?»</tspan></text>
<text x="1729.52" y="1090.50" font-size="20.79" textLength="23.40" lengthAdjust="spacingAndGlyphs" fill="#8c8c8c">48</text>
</svg>
</body></html>
